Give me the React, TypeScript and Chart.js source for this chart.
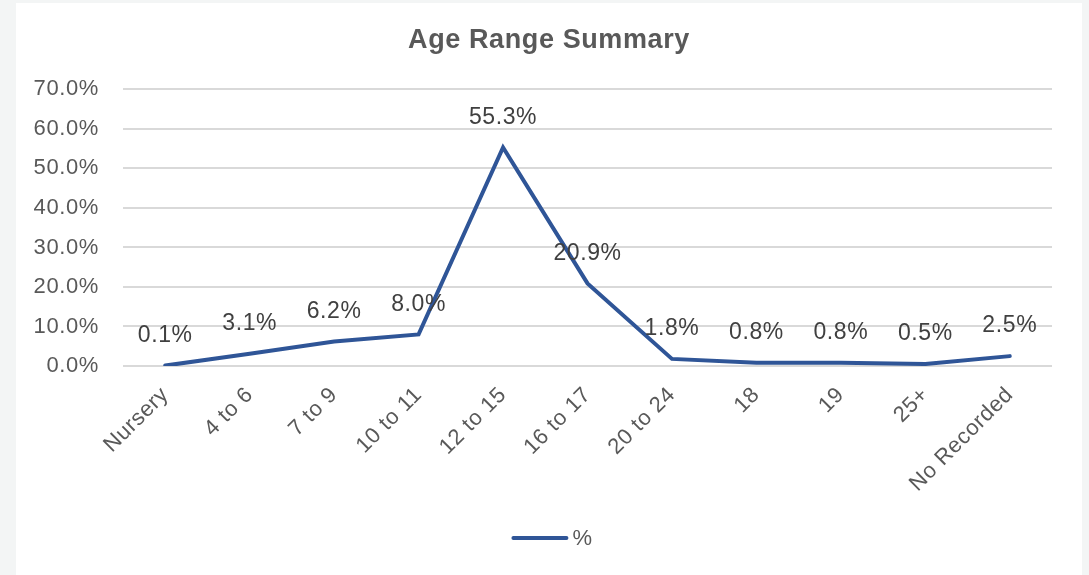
import React, { useEffect, useRef } from "react";
import { Chart, registerables } from "chart.js";

Chart.register(...registerables);

const chartTitle = "Age Range Summary";
const seriesName = "%";
const categories = [
  "Nursery",
  "4 to 6",
  "7 to 9",
  "10 to 11",
  "12 to 15",
  "16 to 17",
  "20 to 24",
  "18",
  "19",
  "25+",
  "No Recorded",
];
const percentValues = [0.1, 3.1, 6.2, 8.0, 55.3, 20.9, 1.8, 0.8, 0.8, 0.5, 2.5];
const yMin = 0;
const yMax = 70;
const yStep = 10;

const FONT = "'Liberation Sans', Arial, Helvetica, sans-serif";
const LINE_COLOR = "#2f5597";
const TEXT_COLOR = "#595959";
const LABEL_COLOR = "#404040";
const SPACING = "0.6px";

const spacingPlugin = {
  id: "letterSpacing",
  beforeInit(chart: any) {
    chart.ctx.letterSpacing = SPACING;
  },
  beforeLayout(chart: any) {
    chart.ctx.letterSpacing = SPACING;
  },
  beforeDraw(chart: any) {
    chart.ctx.letterSpacing = SPACING;
  },
};

const dataLabelPlugin = {
  id: "pointValueLabels",
  afterDatasetsDraw(chart: any) {
    const ctx = chart.ctx;
    const meta = chart.getDatasetMeta(0);
    ctx.save();
    ctx.font = `23px ${FONT}`;
    ctx.fillStyle = LABEL_COLOR;
    ctx.textAlign = "center";
    ctx.textBaseline = "middle";
    meta.data.forEach((pt: any, i: number) => {
      ctx.fillText(percentValues[i].toFixed(1) + "%", pt.x, pt.y - 30);
    });
    ctx.restore();
  },
};

const legendPlugin = {
  id: "customLegend",
  afterDraw(chart: any) {
    const ctx = chart.ctx;
    const ds = chart.data.datasets[0];
    ctx.save();
    ctx.font = `22px ${FONT}`;
    const tw = ctx.measureText(ds.label).width;
    const lineW = 53;
    const gap = 4;
    const total = lineW + 4 + gap + tw;
    const x0 = chart.width / 2 - total / 2 + 5;
    const y = 535;
    ctx.strokeStyle = ds.borderColor;
    ctx.lineWidth = 4;
    ctx.lineCap = "round";
    ctx.beginPath();
    ctx.moveTo(x0, y);
    ctx.lineTo(x0 + lineW, y);
    ctx.stroke();
    ctx.fillStyle = TEXT_COLOR;
    ctx.textAlign = "left";
    ctx.textBaseline = "middle";
    ctx.fillText(ds.label, x0 + lineW + 2 + gap, y + 1);
    ctx.restore();
  },
};

export default function App() {
  const canvasRef = useRef<HTMLCanvasElement | null>(null);

  useEffect(() => {
    document.body.style.margin = "0";
    const canvas = canvasRef.current;
    if (!canvas) return;
    const chart = new Chart(canvas, {
      type: "line",
      data: {
        labels: categories,
        datasets: [
          {
            label: seriesName,
            data: percentValues,
            borderColor: LINE_COLOR,
            backgroundColor: LINE_COLOR,
            borderWidth: 4,
            borderCapStyle: "round",
            borderJoinStyle: "miter",
            pointRadius: 0,
            pointHoverRadius: 0,
            tension: 0,
            fill: false,
          },
        ],
      },
      options: {
        animation: false,
        responsive: true,
        maintainAspectRatio: false,
        layout: { padding: { left: 0, right: 0, top: 0, bottom: 57 } },
        plugins: {
          title: {
            display: true,
            text: chartTitle,
            color: TEXT_COLOR,
            font: { family: FONT, size: 27, weight: "bold" },
            padding: { top: 21, bottom: 33 },
          },
          legend: { display: false },
          tooltip: { enabled: false },
        },
        scales: {
          x: {
            type: "category",
            offset: true,
            grid: { display: false, drawTicks: false },
            border: { display: false },
            ticks: {
              color: TEXT_COLOR,
              font: { family: FONT, size: 22 },
              maxRotation: 45,
              minRotation: 45,
              padding: 16,
              autoSkip: false,
            },
            afterFit(scale: any) {
              scale.height = 152;
            },
          },
          y: {
            min: yMin,
            max: yMax,
            grid: {
              color: "#d9d9d9",
              lineWidth: 2,
              drawTicks: false,
              tickLength: 0,
            },
            border: { display: false },
            ticks: {
              stepSize: yStep,
              color: TEXT_COLOR,
              font: { family: FONT, size: 22 },
              padding: 24,
              callback: (v: any) => Number(v).toFixed(1) + "%",
            },
            afterFit(scale: any) {
              scale.width = 107;
            },
          },
          yRightSpace: {
            type: "linear",
            position: "right",
            display: true,
            grid: { display: false, drawTicks: false },
            border: { display: false },
            ticks: { display: false },
            afterFit(scale: any) {
              scale.width = 30;
            },
          },
        },
      },
      plugins: [spacingPlugin, dataLabelPlugin, legendPlugin],
    });
    return () => chart.destroy();
  }, []);

  return (
    <div
      style={{
        position: "fixed",
        left: 0,
        top: 0,
        width: 1089,
        height: 575,
        background: "#f3f5f5",
      }}
    >
      <div
        style={{
          position: "absolute",
          left: 16,
          top: 3,
          width: 1066,
          height: 572,
          background: "#ffffff",
        }}
      >
        <canvas ref={canvasRef} />
      </div>
    </div>
  );
}
